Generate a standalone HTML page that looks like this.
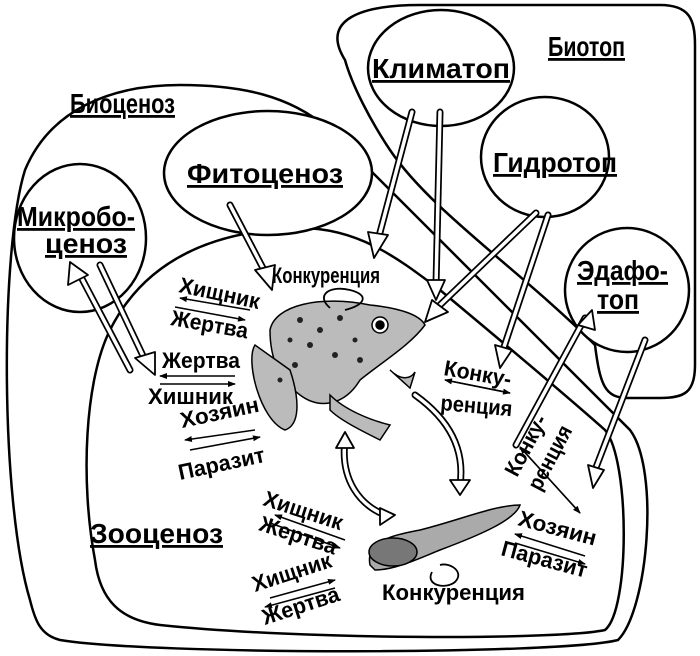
<!DOCTYPE html>
<html><head><meta charset="utf-8"><style>
html,body{margin:0;padding:0;background:#fff}
svg{display:block}
text{font-family:"Liberation Sans","DejaVu Sans",sans-serif;font-weight:bold;fill:#000}
.big{font-size:28px;text-decoration:underline}
.sm{font-size:22px}
</style></head><body>
<svg width="700" height="656" viewBox="0 0 700 656" xmlns="http://www.w3.org/2000/svg">
<defs>
<marker id="ah" markerWidth="8" markerHeight="6" refX="7" refY="3" orient="auto" markerUnits="userSpaceOnUse"><path d="M0,0 L8,3 L0,6 Z" fill="#000"/></marker>
</defs>
<g fill="none" stroke="#000" stroke-width="2.5">
<path d="M345,60 C320,20 360,5 420,5 L660,5 C690,5 695,20 695,45 L695,365 C695,392 685,398 660,398 L628,398 C605,398 600,385 595,345 C520,270 430,210 390,150 C370,120 352,85 345,60 Z"/>
<path d="M30,600 C0,500 0,250 25,170 C50,110 110,85 180,85 C240,85 290,95 330,130 C420,220 560,360 630,430 C660,470 648,610 618,640 C560,655 150,655 60,640 C40,635 35,620 30,600 Z"/>
<path d="M95,560 C80,480 85,380 110,330 C150,250 230,230 300,228 C360,228 400,260 440,290 C500,340 560,390 605,430 C630,460 630,610 605,630 C560,640 300,640 160,625 C120,620 100,600 95,560 Z"/>
<ellipse cx="441" cy="68" rx="73" ry="58" fill="#fff"/>
<ellipse cx="545" cy="157" rx="64" ry="60" fill="#fff"/>
<ellipse cx="627" cy="290" rx="62" ry="62" fill="#fff"/>
<ellipse cx="268" cy="173" rx="104" ry="62" fill="#fff"/>
<ellipse cx="80" cy="238" rx="66" ry="74" fill="#fff"/>
</g>
<g stroke-linejoin="round">
<g stroke="#000" stroke-width="7" stroke-linecap="round" fill="none">
<path d="M412,112 L378,240"/><path d="M440,112 L436,285"/><path d="M536,213 L440,305"/><path d="M548,215 L503,350"/>
<path d="M230,205 L265,272"/><path d="M100,265 L145,360"/><path d="M80,275 L130,370"/>
<path d="M516,445 L585,318"/><path d="M645,340 L595,470"/>
<path d="M415,395 C450,420 465,450 460,485"/><path d="M345,440 C340,480 360,505 385,515"/>
</g>
<g stroke="#fff" stroke-width="3.5" stroke-linecap="round" fill="none">
<path d="M412,112 L378,240"/><path d="M440,112 L436,285"/><path d="M536,213 L440,305"/><path d="M548,215 L503,350"/>
<path d="M230,205 L265,272"/><path d="M100,265 L145,360"/><path d="M80,275 L130,370"/>
<path d="M516,445 L585,318"/><path d="M645,340 L595,470"/>
<path d="M415,395 C450,420 465,450 460,485"/><path d="M345,440 C340,480 360,505 385,515"/>
</g>
<g fill="#fff" stroke="#000" stroke-width="1.8">
<path d="M368,232 L388,235 L374,258 Z"/>
<path d="M427,280 L445,280 L436,300 Z"/>
<path d="M432,300 L448,312 L425,322 Z"/>
<path d="M495,345 L512,350 L500,368 Z"/>
<path d="M255,270 L275,265 L272,290 Z"/>
<path d="M135,358 L155,352 L155,375 Z"/>
<path d="M68,285 L88,275 L70,262 Z"/>
<path d="M578,325 L595,330 L592,310 Z"/>
<path d="M588,465 L604,470 L593,488 Z"/>
<path d="M450,480 L470,480 L460,495 Z"/>
<path d="M336,448 L354,448 L345,432 Z"/>
<path d="M380,508 L380,525 L395,515 Z"/>
</g>
</g>
<g stroke="#000" stroke-width="1.5" fill="#bbb">
<path d="M270,330 C275,305 320,295 370,305 C400,308 420,315 425,325 C410,345 385,360 360,380 C345,405 320,410 300,395 C280,380 270,360 270,330 Z"/>
<path d="M255,345 C245,360 260,420 285,430 C300,425 300,400 290,370 Z"/>
<path d="M330,395 C345,410 370,420 390,425 L380,440 C360,430 340,420 330,410 Z"/>
<path d="M390,370 C400,380 410,380 415,372 L410,388 Z"/>
<circle cx="380" cy="325" r="8" fill="#fff"/><circle cx="380" cy="325" r="4" fill="#000"/>
</g>
<g fill="#222"><circle cx="300" cy="320" r="3"/><circle cx="320" cy="330" r="3"/><circle cx="340" cy="318" r="3"/><circle cx="310" cy="345" r="3"/><circle cx="335" cy="355" r="3"/><circle cx="355" cy="340" r="2.5"/><circle cx="295" cy="365" r="3"/><circle cx="280" cy="380" r="2.5"/><circle cx="360" cy="360" r="3"/><circle cx="290" cy="340" r="2.5"/></g>
<g stroke="#000" stroke-width="1.5" fill="#aaa">
<path d="M370,565 C365,540 395,535 420,530 C460,520 495,505 520,505 C515,520 480,535 440,550 C420,558 395,570 375,570 Z"/>
<ellipse cx="393" cy="552" rx="24" ry="14" fill="#777"/>
</g>
<g fill="none" stroke="#000" stroke-width="1.8">
<path d="M330,308 C315,295 330,285 350,290 C370,295 365,305 345,310"/>
<path d="M432,572 C425,585 445,590 455,582 C465,572 450,562 440,565"/>
</g>
<g stroke="#000" stroke-width="1.5" marker-end="url(#ah)">
<line x1="250" y1="310" x2="180" y2="298"/><line x1="175" y1="307" x2="245" y2="320"/>
<line x1="235" y1="376" x2="160" y2="376"/><line x1="160" y1="384" x2="235" y2="384"/>
<line x1="255" y1="430" x2="185" y2="440"/><line x1="190" y1="450" x2="260" y2="437"/>
<line x1="445" y1="380" x2="510" y2="393"/><line x1="510" y1="393" x2="445" y2="380"/>
<line x1="345" y1="540" x2="275" y2="515"/><line x1="270" y1="523" x2="340" y2="548"/>
<line x1="270" y1="598" x2="335" y2="580"/><line x1="335" y1="588" x2="265" y2="607"/>
<line x1="580" y1="513" x2="520" y2="447"/><line x1="520" y1="447" x2="580" y2="513"/>
<line x1="585" y1="556" x2="515" y2="534"/><line x1="515" y1="543" x2="585" y2="564"/>
</g>
<g>
<text class="big" x="548" y="56" textLength="77" lengthAdjust="spacingAndGlyphs">Биотоп</text>
<text class="big" x="372" y="78" textLength="138" lengthAdjust="spacingAndGlyphs">Климатоп</text>
<text class="big" x="493" y="172" textLength="124" lengthAdjust="spacingAndGlyphs">Гидротоп</text>
<text class="big" x="577" y="280" textLength="91" lengthAdjust="spacingAndGlyphs">Эдафо-</text>
<text class="big" x="597" y="309" textLength="42" lengthAdjust="spacingAndGlyphs">топ</text>
<text class="big" x="70" y="113" textLength="105" lengthAdjust="spacingAndGlyphs">Биоценоз</text>
<text class="big" x="187" y="183" textLength="156" lengthAdjust="spacingAndGlyphs">Фитоценоз</text>
<text class="big" x="17" y="226" textLength="118" lengthAdjust="spacingAndGlyphs">Микробо-</text>
<text class="big" x="45" y="253" textLength="82" lengthAdjust="spacingAndGlyphs">ценоз</text>
<text class="big" x="90" y="543" textLength="133" lengthAdjust="spacingAndGlyphs">Зооценоз</text>
<text class="sm" x="272" y="283" textLength="108" lengthAdjust="spacingAndGlyphs">Конкуренция</text>
<text class="sm" x="382" y="600" textLength="143" lengthAdjust="spacingAndGlyphs">Конкуренция</text>
<text class="sm" transform="translate(178,292) rotate(12)" textLength="82" lengthAdjust="spacingAndGlyphs">Хищник</text>
<text class="sm" transform="translate(170,325) rotate(10)" textLength="78" lengthAdjust="spacingAndGlyphs">Жертва</text>
<text class="sm" x="162" y="368" textLength="78" lengthAdjust="spacingAndGlyphs">Жертва</text>
<text class="sm" x="148" y="404" textLength="85" lengthAdjust="spacingAndGlyphs">Хишник</text>
<text class="sm" transform="translate(182,428) rotate(-12)" textLength="80" lengthAdjust="spacingAndGlyphs">Хозяин</text>
<text class="sm" transform="translate(180,480) rotate(-12)" textLength="88" lengthAdjust="spacingAndGlyphs">Паразит</text>
<text class="sm" transform="translate(443,375) rotate(10)" textLength="68" lengthAdjust="spacingAndGlyphs">Конку-</text>
<text class="sm" transform="translate(440,410) rotate(5)" textLength="72" lengthAdjust="spacingAndGlyphs">ренция</text>
<text class="sm" transform="translate(262,505) rotate(18)" textLength="82" lengthAdjust="spacingAndGlyphs">Хищник</text>
<text class="sm" transform="translate(258,530) rotate(18)" textLength="80" lengthAdjust="spacingAndGlyphs">Жертва</text>
<text class="sm" transform="translate(255,592) rotate(-18)" textLength="82" lengthAdjust="spacingAndGlyphs">Хищник</text>
<text class="sm" transform="translate(265,625) rotate(-18)" textLength="80" lengthAdjust="spacingAndGlyphs">Жертва</text>
<text class="sm" transform="translate(517,478) rotate(-62)" textLength="66" lengthAdjust="spacingAndGlyphs">Конку-</text>
<text class="sm" transform="translate(540,492) rotate(-62)" textLength="70" lengthAdjust="spacingAndGlyphs">ренция</text>
<text class="sm" transform="translate(517,525) rotate(15)" textLength="80" lengthAdjust="spacingAndGlyphs">Хозяин</text>
<text class="sm" transform="translate(500,555) rotate(15)" textLength="88" lengthAdjust="spacingAndGlyphs">Паразит</text>
</g>
</svg>
</body></html>
